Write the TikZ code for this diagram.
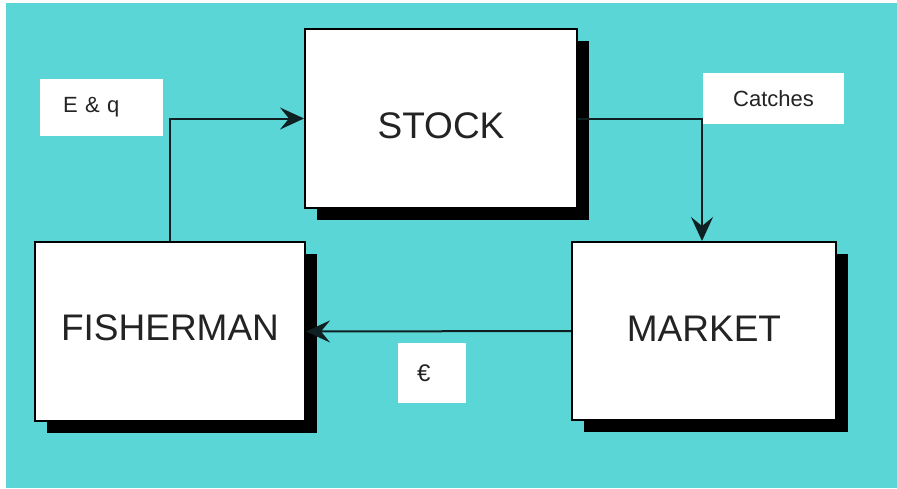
\documentclass[tikz,border=0pt]{standalone}
\usepackage{fontspec}
\setmainfont{Liberation Sans}
\usetikzlibrary{arrows.meta,shadows}
\definecolor{sea}{RGB}{90,214,214}
\definecolor{ink}{RGB}{14,32,34}
\definecolor{txt}{RGB}{35,35,35}
\tikzset{
  block/.style={draw=black, line width=2pt, fill=white, text=txt,
    font=\fontsize{37}{40}\selectfont, text height=26.5pt, text depth=0pt,
    drop shadow={shadow xshift=12pt, shadow yshift=-12pt, fill=black, opacity=1}},
  tag/.style={fill=white, text=txt, inner sep=0pt,
    font=\fontsize{22}{24}\selectfont},
  flow/.style={draw=ink, line width=2pt,
    -{Stealth[length=24pt, width=22pt, inset=9pt]}},
}
\begin{document}
\begin{tikzpicture}[x=1pt, y=-1pt]
  \useasboundingbox (0,0) rectangle (897,488);
  \fill[white] (0,0) rectangle (897,488);
  \fill[sea] (6,3) rectangle (897,488);

  % flow labels
  \node[tag, minimum width=123pt, minimum height=57pt, text width=123pt, align=left] (eq) at (101.5,107.5) {\hspace*{23pt}E \& q};
  \node[tag, minimum width=141pt, minimum height=51pt] (catches) at (773.5,98.5) {Catches};
  \node[tag, minimum width=68pt, minimum height=60pt, text width=68pt, align=left, font=\fontsize{24}{26}\selectfont] (euro) at (432,373) {\hspace*{19pt}€};

  % the three boxes
  \node[block, minimum width=272pt, minimum height=179pt] (stock) at (441,118.5) {\raisebox{-7pt}{STOCK}};
  \node[block, minimum width=270pt, minimum height=179pt] (fisher) at (170,331.5) {\raisebox{4.5pt}{FISHERMAN}};
  \node[block, minimum width=264pt, minimum height=178pt] (market) at (704,331) {\raisebox{3pt}{MARKET}};

  % flows between them
  \draw[flow] (fisher.north) |- (stock.west);
  \draw[flow] (stock.east) -| ([xshift=-2pt]market.north);
  \draw[flow] (market.west) -- (fisher.east);
\end{tikzpicture}
\end{document}
